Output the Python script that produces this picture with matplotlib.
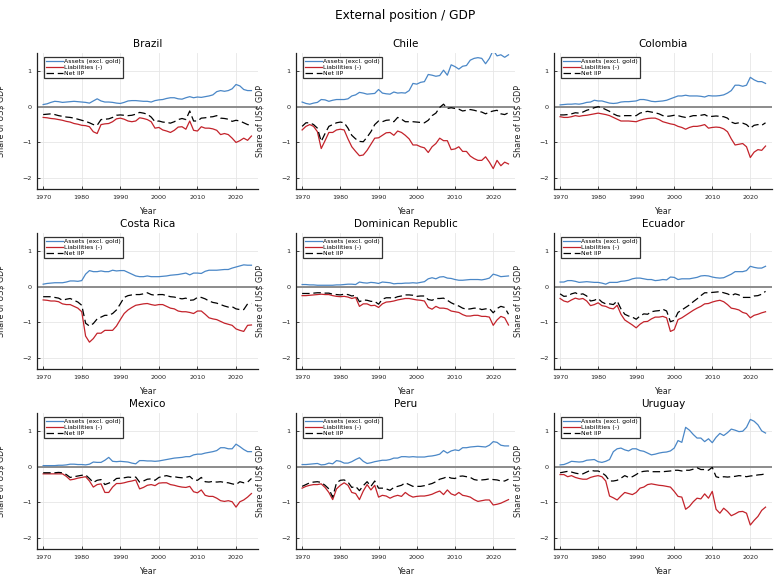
import numpy as np
import matplotlib
import matplotlib.pyplot as plt

matplotlib.use('agg')

years = list(range(1970, 2025))
countries = ['Brazil', 'Chile', 'Colombia', 'Costa Rica', 'Dominican Republic',
             'Ecuador', 'Mexico', 'Peru', 'Uruguay']
series_labels = ['Assets (excl. gold)', 'Liabilities (-)', 'Net IIP']
y_ticks = [-2, -1, 0, 1]
x_ticks = [1970, 1980, 1990, 2000, 2010, 2020]

brazil_assets = [0.06, 0.08, 0.12, 0.15, 0.14, 0.12, 0.13, 0.14, 0.15, 0.14,
                 0.13, 0.12, 0.10, 0.16, 0.22, 0.16, 0.13, 0.13, 0.12, 0.10,
                 0.09, 0.12, 0.16, 0.17, 0.17, 0.16, 0.15, 0.15, 0.13, 0.17,
                 0.19, 0.20, 0.23, 0.25, 0.25, 0.22, 0.21, 0.25, 0.28, 0.25,
                 0.27, 0.26, 0.28, 0.30, 0.33, 0.42, 0.45, 0.43, 0.45, 0.50,
                 0.62, 0.58, 0.48, 0.45, 0.45]
brazil_liab = [-0.30, -0.31, -0.33, -0.34, -0.36, -0.38, -0.41, -0.43, -0.47, -0.49,
               -0.52, -0.53, -0.56, -0.70, -0.75, -0.50, -0.48, -0.47, -0.42, -0.34,
               -0.32, -0.35, -0.40, -0.42, -0.40, -0.31, -0.33, -0.36, -0.42, -0.60,
               -0.58, -0.65, -0.68, -0.72, -0.66, -0.57, -0.56, -0.63, -0.40, -0.66,
               -0.68, -0.56, -0.60, -0.60, -0.62, -0.66, -0.78, -0.75, -0.78, -0.88,
               -1.00, -0.95, -0.88, -0.94, -0.82]
brazil_net = [-0.22, -0.21, -0.20, -0.22, -0.25, -0.27, -0.29, -0.30, -0.32, -0.35,
              -0.38, -0.41, -0.45, -0.50, -0.52, -0.36, -0.35, -0.34, -0.30, -0.24,
              -0.23, -0.24, -0.25, -0.24, -0.21, -0.16, -0.18, -0.21, -0.29, -0.42,
              -0.40, -0.43, -0.44, -0.46, -0.42, -0.36, -0.33, -0.36, -0.12, -0.40,
              -0.40, -0.32, -0.31, -0.29, -0.28, -0.25, -0.32, -0.33, -0.35, -0.41,
              -0.38, -0.40, -0.45, -0.50, -0.52]

chile_assets = [0.13, 0.09, 0.07, 0.10, 0.12, 0.20, 0.19, 0.15, 0.18, 0.20,
                0.20, 0.20, 0.22, 0.30, 0.33, 0.40, 0.38, 0.35, 0.36, 0.37,
                0.48, 0.38, 0.36, 0.35, 0.41, 0.38, 0.39, 0.38, 0.45, 0.65,
                0.63, 0.68, 0.70, 0.90, 0.88, 0.85, 0.87, 1.02, 0.88, 1.17,
                1.12, 1.05, 1.13, 1.15, 1.30, 1.35, 1.37, 1.35, 1.20, 1.35,
                1.58, 1.42, 1.45, 1.38, 1.45]
chile_liab = [-0.65, -0.55, -0.50, -0.55, -0.70, -1.17, -0.95, -0.72, -0.72, -0.65,
              -0.63, -0.65, -0.90, -1.12, -1.25, -1.37, -1.35, -1.22, -1.05, -0.88,
              -0.87, -0.80, -0.73, -0.72, -0.80, -0.68, -0.72, -0.80, -0.90, -1.07,
              -1.07, -1.12, -1.15, -1.28, -1.12, -1.03, -0.88, -0.95, -0.95, -1.20,
              -1.18, -1.12, -1.25, -1.25, -1.38, -1.45, -1.50, -1.50, -1.40, -1.55,
              -1.73, -1.50, -1.65, -1.55, -1.60]
chile_net = [-0.55, -0.45, -0.45, -0.50, -0.60, -0.97, -0.75, -0.55, -0.50, -0.45,
             -0.43, -0.45, -0.60, -0.80, -0.90, -0.97, -0.98, -0.85, -0.70, -0.50,
             -0.40, -0.42, -0.38, -0.37, -0.42, -0.30, -0.35, -0.42, -0.42, -0.42,
             -0.43, -0.44, -0.45, -0.38, -0.25, -0.18, -0.02, 0.07, -0.05, -0.03,
             -0.05, -0.07, -0.12, -0.10, -0.08, -0.10, -0.13, -0.15, -0.20, -0.15,
             -0.12, -0.10, -0.20, -0.22, -0.17]

colombia_assets = [0.05, 0.06, 0.07, 0.07, 0.08, 0.07, 0.09, 0.12, 0.13, 0.18,
                   0.16, 0.16, 0.13, 0.10, 0.09, 0.10, 0.13, 0.14, 0.14, 0.15,
                   0.16, 0.20, 0.20, 0.18, 0.15, 0.14, 0.15, 0.16, 0.18, 0.22,
                   0.26, 0.30, 0.30, 0.32, 0.30, 0.30, 0.30, 0.29, 0.27, 0.31,
                   0.30, 0.30, 0.31, 0.33, 0.38, 0.45, 0.60, 0.60, 0.57, 0.60,
                   0.82, 0.75, 0.70, 0.70, 0.65]
colombia_liab = [-0.28, -0.30, -0.30, -0.28, -0.25, -0.27, -0.25, -0.24, -0.22, -0.20,
                 -0.18, -0.20, -0.22, -0.25, -0.30, -0.35, -0.40, -0.40, -0.40, -0.41,
                 -0.42, -0.38, -0.35, -0.33, -0.32, -0.32, -0.36, -0.42, -0.45, -0.48,
                 -0.50, -0.55, -0.58, -0.63, -0.58, -0.55, -0.55, -0.53, -0.50, -0.60,
                 -0.58, -0.57, -0.58, -0.62, -0.70, -0.90, -1.07, -1.05, -1.03, -1.12,
                 -1.42, -1.27, -1.20, -1.22, -1.10]
colombia_net = [-0.23, -0.23, -0.22, -0.20, -0.17, -0.18, -0.15, -0.10, -0.07, -0.03,
                0.00, -0.03, -0.08, -0.13, -0.20, -0.25, -0.27, -0.25, -0.25, -0.25,
                -0.25, -0.18, -0.15, -0.13, -0.15, -0.17, -0.20, -0.25, -0.27, -0.26,
                -0.24, -0.25, -0.28, -0.30, -0.28, -0.25, -0.25, -0.24, -0.22, -0.28,
                -0.27, -0.26, -0.27, -0.28, -0.32, -0.43, -0.47, -0.45, -0.46, -0.50,
                -0.60, -0.52, -0.50, -0.52, -0.45]

costa_rica_assets = [0.07, 0.09, 0.10, 0.11, 0.11, 0.11, 0.13, 0.16, 0.16, 0.15,
                     0.17, 0.35, 0.45, 0.42, 0.42, 0.44, 0.42, 0.42, 0.46, 0.44,
                     0.45, 0.45, 0.40, 0.35, 0.30, 0.28, 0.28, 0.30, 0.28, 0.28,
                     0.28, 0.29, 0.30, 0.32, 0.33, 0.34, 0.36, 0.38, 0.33, 0.38,
                     0.38, 0.37, 0.43, 0.46, 0.46, 0.46, 0.47, 0.48, 0.48, 0.52,
                     0.55, 0.58, 0.61, 0.60, 0.60]
costa_rica_liab = [-0.37, -0.38, -0.40, -0.40, -0.42, -0.48, -0.50, -0.50, -0.55, -0.60,
                   -0.70, -1.38, -1.55, -1.45, -1.30, -1.30, -1.22, -1.22, -1.22, -1.10,
                   -0.92, -0.75, -0.65, -0.58, -0.52, -0.50, -0.48, -0.47, -0.50, -0.52,
                   -0.50, -0.50, -0.55, -0.60, -0.62, -0.68, -0.70, -0.70, -0.72, -0.75,
                   -0.68, -0.68, -0.77, -0.87, -0.90, -0.92, -0.97, -1.02, -1.05, -1.08,
                   -1.18, -1.22, -1.25, -1.08, -1.07]
costa_rica_net = [-0.28, -0.28, -0.28, -0.30, -0.32, -0.38, -0.35, -0.33, -0.38, -0.43,
                  -0.52, -1.02, -1.10, -1.03, -0.90, -0.85, -0.80, -0.80, -0.75, -0.65,
                  -0.48, -0.30, -0.25, -0.23, -0.22, -0.22, -0.20, -0.17, -0.22, -0.24,
                  -0.22, -0.22, -0.25, -0.28, -0.29, -0.32, -0.34, -0.32, -0.38, -0.37,
                  -0.30, -0.30, -0.34, -0.40, -0.44, -0.46, -0.50, -0.54, -0.57, -0.56,
                  -0.62, -0.64, -0.64, -0.48, -0.47]

dominican_assets = [0.06, 0.06, 0.05, 0.05, 0.04, 0.04, 0.04, 0.04, 0.04, 0.05,
                    0.05, 0.06, 0.07, 0.07, 0.06, 0.13, 0.11, 0.10, 0.12, 0.11,
                    0.09, 0.13, 0.12, 0.11, 0.08, 0.09, 0.09, 0.10, 0.10, 0.11,
                    0.10, 0.12, 0.14, 0.22, 0.25, 0.22, 0.27, 0.28, 0.24, 0.23,
                    0.20, 0.18, 0.18, 0.19, 0.20, 0.20, 0.20, 0.19, 0.21, 0.24,
                    0.35, 0.32, 0.28, 0.29, 0.30]
dominican_liab = [-0.25, -0.25, -0.24, -0.23, -0.22, -0.21, -0.22, -0.22, -0.25, -0.27,
                  -0.28, -0.27, -0.29, -0.33, -0.30, -0.55, -0.48, -0.48, -0.53, -0.52,
                  -0.58, -0.48, -0.43, -0.42, -0.40, -0.37, -0.35, -0.33, -0.33, -0.35,
                  -0.37, -0.38, -0.40, -0.58, -0.63, -0.55, -0.60, -0.60, -0.62, -0.68,
                  -0.70, -0.72, -0.78, -0.82, -0.82, -0.80, -0.80, -0.83, -0.83, -0.85,
                  -1.08, -0.93, -0.83, -0.87, -1.07]
dominican_net = [-0.19, -0.19, -0.19, -0.18, -0.17, -0.17, -0.18, -0.18, -0.21, -0.22,
                 -0.23, -0.21, -0.22, -0.26, -0.24, -0.42, -0.37, -0.38, -0.41, -0.41,
                 -0.49, -0.35, -0.31, -0.31, -0.32, -0.28, -0.26, -0.23, -0.23, -0.24,
                 -0.27, -0.26, -0.26, -0.36, -0.38, -0.33, -0.33, -0.32, -0.38, -0.45,
                 -0.50, -0.54, -0.60, -0.63, -0.62, -0.60, -0.60, -0.64, -0.62, -0.61,
                 -0.73, -0.61, -0.55, -0.58, -0.77]

ecuador_assets = [0.13, 0.13, 0.17, 0.17, 0.15, 0.12, 0.13, 0.14, 0.13, 0.12,
                  0.12, 0.10, 0.07, 0.12, 0.12, 0.12, 0.15, 0.16, 0.18, 0.22,
                  0.24, 0.24, 0.22, 0.20, 0.20, 0.17, 0.18, 0.20, 0.19, 0.27,
                  0.26, 0.20, 0.22, 0.22, 0.22, 0.24, 0.26, 0.30, 0.31, 0.30,
                  0.27, 0.25, 0.24, 0.25, 0.30, 0.35, 0.42, 0.42, 0.42, 0.45,
                  0.57, 0.54, 0.52, 0.52, 0.57]
ecuador_liab = [-0.33, -0.40, -0.43, -0.37, -0.32, -0.35, -0.33, -0.40, -0.53, -0.50,
                -0.45, -0.53, -0.55, -0.60, -0.62, -0.52, -0.77, -0.93, -1.00, -1.07,
                -1.15, -1.05, -0.98, -0.97, -0.90, -0.85, -0.85, -0.83, -0.87, -1.25,
                -1.20, -0.92, -0.87, -0.80, -0.73, -0.66, -0.60, -0.55, -0.48, -0.47,
                -0.43, -0.40, -0.38, -0.42, -0.50, -0.60, -0.62, -0.65, -0.72, -0.75,
                -0.87, -0.80, -0.77, -0.73, -0.70]
ecuador_net = [-0.20, -0.27, -0.26, -0.20, -0.17, -0.22, -0.20, -0.26, -0.40, -0.38,
               -0.33, -0.43, -0.48, -0.48, -0.50, -0.40, -0.62, -0.77, -0.82, -0.85,
               -0.91, -0.82, -0.76, -0.77, -0.70, -0.68, -0.67, -0.63, -0.68, -0.98,
               -0.94, -0.72, -0.65, -0.58, -0.51, -0.42, -0.34, -0.25, -0.17, -0.17,
               -0.16, -0.15, -0.14, -0.17, -0.20, -0.25, -0.20, -0.23, -0.30, -0.30,
               -0.30, -0.26, -0.25, -0.21, -0.13]

mexico_assets = [0.03, 0.03, 0.03, 0.03, 0.04, 0.04, 0.05, 0.07, 0.07, 0.06,
                 0.06, 0.05, 0.07, 0.13, 0.12, 0.12, 0.18, 0.26, 0.15, 0.14,
                 0.15, 0.14, 0.13, 0.10, 0.08, 0.17, 0.17, 0.16, 0.16, 0.15,
                 0.16, 0.18, 0.20, 0.22, 0.24, 0.25, 0.26, 0.28, 0.28, 0.33,
                 0.35, 0.35, 0.38, 0.40, 0.42, 0.45, 0.53, 0.53, 0.50, 0.50,
                 0.63, 0.56, 0.48, 0.42, 0.42]
mexico_liab = [-0.20, -0.20, -0.20, -0.20, -0.20, -0.20, -0.27, -0.37, -0.35, -0.32,
               -0.30, -0.28, -0.40, -0.57, -0.50, -0.48, -0.72, -0.72, -0.57, -0.47,
               -0.47, -0.45, -0.42, -0.40, -0.37, -0.62, -0.58, -0.52, -0.50, -0.53,
               -0.46, -0.45, -0.45, -0.50, -0.52, -0.55, -0.57, -0.58, -0.55, -0.70,
               -0.73, -0.65, -0.80, -0.83, -0.83, -0.88, -0.95, -0.97, -0.95, -0.98,
               -1.13, -0.98, -0.93, -0.85, -0.75]
mexico_net = [-0.17, -0.17, -0.17, -0.17, -0.16, -0.17, -0.22, -0.30, -0.28, -0.26,
              -0.24, -0.23, -0.33, -0.44, -0.38, -0.36, -0.50, -0.46, -0.42, -0.33,
              -0.32, -0.31, -0.29, -0.30, -0.29, -0.43, -0.40, -0.35, -0.34, -0.38,
              -0.30, -0.27, -0.25, -0.28, -0.28, -0.30, -0.31, -0.30, -0.27, -0.37,
              -0.38, -0.30, -0.42, -0.43, -0.41, -0.43, -0.42, -0.44, -0.45, -0.48,
              -0.50, -0.42, -0.45, -0.43, -0.33]

peru_assets = [0.06, 0.06, 0.07, 0.08, 0.09, 0.05, 0.06, 0.10, 0.08, 0.17,
               0.15, 0.10, 0.10, 0.14, 0.20, 0.25, 0.15, 0.09, 0.11, 0.14,
               0.16, 0.18, 0.18, 0.20, 0.24, 0.24, 0.28, 0.28, 0.27, 0.28,
               0.27, 0.27, 0.27, 0.29, 0.30, 0.32, 0.35, 0.45, 0.38, 0.44,
               0.47, 0.45, 0.53, 0.53, 0.55, 0.56, 0.57, 0.56, 0.55, 0.60,
               0.70, 0.68, 0.60, 0.58, 0.58]
peru_liab = [-0.60, -0.55, -0.52, -0.50, -0.50, -0.48, -0.58, -0.72, -0.92, -0.62,
             -0.52, -0.45, -0.52, -0.72, -0.75, -0.92, -0.68, -0.50, -0.65, -0.52,
             -0.85, -0.80, -0.82, -0.88, -0.83, -0.80, -0.83, -0.72, -0.80, -0.85,
             -0.83, -0.82, -0.82, -0.80, -0.77, -0.72, -0.68, -0.78, -0.65, -0.76,
             -0.80, -0.72, -0.80, -0.82, -0.85, -0.92, -0.97, -0.95, -0.93, -0.93,
             -1.07, -1.05, -1.02, -0.97, -0.92]
peru_net = [-0.55, -0.50, -0.45, -0.43, -0.42, -0.44, -0.52, -0.62, -0.85, -0.45,
            -0.38, -0.37, -0.43, -0.58, -0.55, -0.67, -0.53, -0.42, -0.55, -0.40,
            -0.60, -0.60, -0.62, -0.66, -0.58, -0.55, -0.52, -0.45, -0.50, -0.55,
            -0.55, -0.55, -0.53, -0.50, -0.47, -0.42, -0.35, -0.32, -0.28, -0.32,
            -0.33, -0.27, -0.26, -0.28, -0.30, -0.36, -0.38, -0.37, -0.36, -0.34,
            -0.36, -0.37, -0.40, -0.40, -0.35]

uruguay_assets = [0.05, 0.06, 0.10, 0.15, 0.14, 0.13, 0.14, 0.18, 0.19, 0.20,
                  0.14, 0.12, 0.15, 0.20, 0.42, 0.50, 0.52, 0.47, 0.44, 0.50,
                  0.50, 0.45, 0.43, 0.38, 0.33, 0.35, 0.38, 0.40, 0.41, 0.44,
                  0.52, 0.73, 0.68, 1.10, 1.02, 0.90, 0.80, 0.80, 0.70, 0.78,
                  0.67, 0.82, 0.93, 0.87, 0.95, 1.05, 1.02, 0.98, 0.99, 1.10,
                  1.32, 1.27, 1.17, 1.00, 0.94]
uruguay_liab = [-0.22, -0.22, -0.28, -0.25, -0.30, -0.33, -0.35, -0.35, -0.30, -0.27,
                -0.25, -0.28, -0.40, -0.82, -0.87, -0.93, -0.82, -0.72, -0.75, -0.78,
                -0.72, -0.60, -0.57, -0.50, -0.48, -0.50, -0.52, -0.53, -0.55, -0.57,
                -0.69, -0.83, -0.85, -1.19, -1.11, -0.98, -0.88, -0.90, -0.76, -0.88,
                -0.69, -1.19, -1.30, -1.16, -1.25, -1.37, -1.32, -1.26, -1.25, -1.30,
                -1.63, -1.50, -1.39, -1.22, -1.13]
uruguay_net = [-0.17, -0.15, -0.13, -0.15, -0.18, -0.20, -0.20, -0.15, -0.10, -0.12,
               -0.12, -0.17, -0.25, -0.40, -0.40, -0.38, -0.32, -0.25, -0.30, -0.28,
               -0.22, -0.15, -0.13, -0.12, -0.14, -0.14, -0.14, -0.14, -0.13, -0.12,
               -0.10, -0.10, -0.12, -0.10, -0.10, -0.07, -0.03, -0.08, -0.08, -0.10,
               -0.02, -0.28, -0.31, -0.28, -0.29, -0.28, -0.27, -0.25, -0.26, -0.28,
               -0.26, -0.25, -0.23, -0.22, -0.20]

assets = [brazil_assets, chile_assets, colombia_assets, costa_rica_assets, dominican_assets,
          ecuador_assets, mexico_assets, peru_assets, uruguay_assets]
liabilities = [brazil_liab, chile_liab, colombia_liab, costa_rica_liab, dominican_liab,
               ecuador_liab, mexico_liab, peru_liab, uruguay_liab]
net_iip = [brazil_net, chile_net, colombia_net, costa_rica_net, dominican_net,
           ecuador_net, mexico_net, peru_net, uruguay_net]

W, H = 774, 577
fig = plt.figure(figsize=(W / 100, H / 100), dpi=100)

# panel boxes in pixels (left, top, right, bottom)
col_edges = [(37, 258), (296, 515), (554, 772)]
row_edges = [(53, 189), (233, 369), (413, 549)]

blue = '#4a87c7'
red = '#c3232b'

for i, name in enumerate(countries):
    l, r = col_edges[i % 3]
    t, b = row_edges[i // 3]
    ax = fig.add_axes([l / W, 1 - b / H, (r - l) / W, (b - t) / H])

    ax.axhline(0, color='#8c8c8c', lw=1.4, zorder=1)
    ax.plot(years, assets[i], color=blue, lw=0.9, label=series_labels[0], zorder=3)
    ax.plot(years, liabilities[i], color=red, lw=0.9, label=series_labels[1], zorder=3)
    ax.plot(years, net_iip[i], color='black', lw=0.9, ls=(0, (6, 3)), label=series_labels[2], zorder=3)

    ax.set_xlim(1968.4, 2025.7)
    ax.set_ylim(-2.3, 1.5)
    ax.set_xticks(x_ticks)
    ax.set_yticks(y_ticks)
    ax.set_yticklabels(['\u22122', '\u22121', '0', '1'])
    ax.tick_params(labelsize=4.6, length=2, width=0.6, direction='in', pad=4, colors='#222222')
    ax.grid(True, color='#e6e6e6', lw=0.6)
    ax.set_axisbelow(True)
    for side in ['top', 'right']:
        ax.spines[side].set_visible(False)
    for side in ['left', 'bottom']:
        ax.spines[side].set_linewidth(0.9)
        ax.spines[side].set_color('#222222')

    ax.set_title(name, fontsize=7.5, pad=4)
    ax.set_xlabel('Year', fontsize=5.8, color='#222222')
    ax.set_ylabel('Share of US$ GDP', fontsize=5.8, color='#222222')
    ax.yaxis.set_label_coords(-31 / (r - l), 0.5)
    ax.xaxis.set_label_coords(0.5, -18 / (b - t))

    leg = ax.legend(loc='upper left', bbox_to_anchor=(7 / (r - l), 1 - 4 / (b - t)),
                    borderaxespad=0, fontsize=4.4, frameon=True, fancybox=False,
                    handlelength=2.7, handletextpad=0.3, labelspacing=0.1,
                    borderpad=0.35)
    leg.get_frame().set_edgecolor('black')
    leg.get_frame().set_linewidth(0.9)

fig.text(405 / W, 1 - 15 / H, 'External position / GDP', ha='center', va='center', fontsize=8.7)

plt.savefig('out.png', dpi=100)
